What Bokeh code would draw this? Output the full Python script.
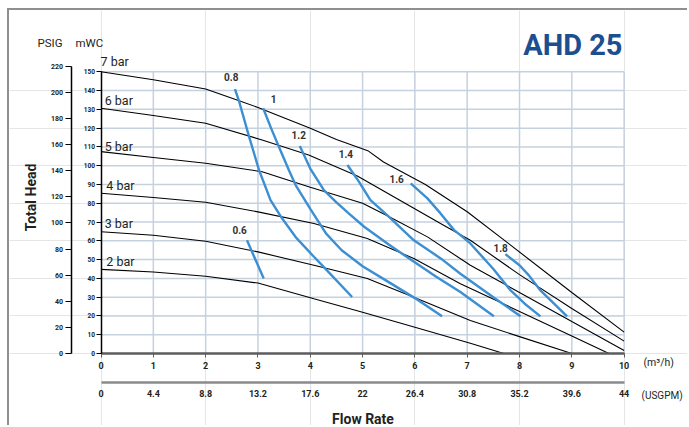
import math
from bokeh.plotting import figure
from bokeh.models import Range1d, LinearAxis, FixedTicker, CustomJSTickFormatter
from bokeh.embed import file_html
from bokeh.resources import INLINE
from bokeh.core.properties import value

# ---------------- data ----------------
flow_ticks = [0, 1, 2, 3, 4, 5, 6, 7, 8, 9, 10]            # m3/h
usgpm_ticks = [0, 4.4, 8.8, 13.2, 17.6, 22, 26.4, 30.8, 35.2, 39.6, 44]
mwc_ticks = [0, 10, 20, 30, 40, 50, 60, 70, 80, 90, 100, 110, 120, 130, 140, 150]
psig_ticks = [0, 20, 40, 60, 80, 100, 120, 140, 160, 180, 200, 220]

bar_names = ["7 bar", "6 bar", "5 bar", "4 bar", "3 bar", "2 bar"]

q_7bar = [0, 1, 2, 2.6, 3, 4, 4.5, 5.1, 5.4, 6.2, 7, 7.7, 9, 10]
h_7bar = [150, 145.8, 140.8, 135, 131, 120, 114, 108, 102, 90, 75.5, 60.5, 32.5, 11.4]
q_6bar = [0, 1, 2, 3.08, 3.97, 4.9, 5.98, 6.49, 7.06, 8, 9, 10]
h_6bar = [130.6, 126.7, 122.6, 113.7, 105.7, 94.5, 77.3, 69.2, 60.3, 42, 24, 6.6]
q_5bar = [0, 1, 2, 3.08, 4.0, 5.0, 5.5, 6.24, 7.06, 8, 9, 10]
h_5bar = [107.5, 104.4, 101.3, 96.8, 88.5, 80, 73, 62.1, 47, 32.5, 17, 1.6]
q_4bar = [0, 1, 2, 3, 4.07, 5.09, 5.98, 6.87, 8, 9, 9.71]
h_4bar = [85.3, 83.1, 80.5, 75.4, 69.2, 61.2, 50.6, 37.2, 22.4, 9.3, 0]
q_3bar = [0, 1, 2, 3, 4.07, 5.09, 5.98, 7.06, 8, 9]
h_3bar = [64.8, 63, 59.8, 54.1, 47, 39.9, 30, 17.6, 9, 0]
q_2bar = [0, 1, 2, 3, 4.07, 5, 6, 7.06, 7.7]
h_2bar = [44.8, 43.4, 41.1, 37.5, 29.2, 22, 14, 5.5, 0]

# air consumption curves
air_names = ["0.6", "0.8", "1", "1.2", "1.4", "1.6", "1.8"]
q_air06 = [2.79, 3.11]
h_air06 = [60.3, 39.9]
q_air08 = [2.56, 2.64, 2.83, 3.02, 3.24, 3.46, 3.72, 4.07, 4.26, 4.80]
h_air08 = [140.8, 134.2, 115.5, 97.7, 81.7, 72, 62, 51.5, 46, 30.1]
q_air10 = [3.10, 3.25, 3.40, 3.59, 3.72, 4.0, 4.3, 4.6, 5.0, 5.5, 6.0, 6.52]
h_air10 = [130.6, 120, 110.1, 97.7, 89.7, 77, 64, 55, 46.5, 38, 29.5, 19.8]
q_air12 = [3.80, 4.0, 4.26, 4.5, 4.74, 5.03, 5.5, 5.92, 6.4, 6.87, 7.51]
h_air12 = [110.5, 98.5, 87, 80.5, 74.5, 67.5, 58, 50, 41, 32.7, 19.8]
q_air14 = [4.71, 4.82, 4.93, 5.15, 5.47, 5.98, 6.5, 6.87, 7.5, 8.02]
h_air14 = [100.4, 96, 91.5, 81.7, 73.7, 60.3, 50.5, 42.5, 30, 19.8]
q_air16 = [5.92, 6.24, 6.49, 6.75, 6.87, 7.06, 7.5, 7.83, 8.1, 8.40]
h_air16 = [90.6, 82.6, 74.6, 65.7, 63, 58.6, 45, 33.6, 26.5, 19.8]
q_air18 = [7.73, 8.0, 8.18, 8.40, 8.91]
h_air18 = [52.9, 47, 41.6, 33.6, 19.8]

# ---------------- layout / styling ----------------
FONT = value("Roboto")
TXT = "#231f20"
GRID = "#c6d1e0"
BLUE = "#3b8fd2"

W, H = 680, 417                      # canvas (placed at page x=9, y=10)
X0, X1 = -1.75, 11.25                # m3/h across the whole canvas
Y0, Y1 = -39.4, 182.64               # mWC across the whole canvas
PSI_PER_MWC = 1.4379                 # scale of the PSIG axis as drawn in the chart

p = figure(width=W, height=H, x_range=Range1d(X0, X1), y_range=Range1d(Y0, Y1),
           output_backend="svg", toolbar_location=None,
           x_axis_location=None, y_axis_location=None,
           min_border_left=0, min_border_right=0, min_border_top=0, min_border_bottom=0)
p.outline_line_color = None
p.background_fill_color = "white"
p.border_fill_color = "white"
p.styles = {"margin-left": "7px", "margin-top": "8px",
            "border-left": "2px solid #8f8f8f", "border-top": "2px solid #8f8f8f"}
p.extra_x_ranges = {"usgpm": Range1d(X0 * 4.4, X1 * 4.4)}
p.extra_y_ranges = {"psig": Range1d(Y0 * PSI_PER_MWC, Y1 * PSI_PER_MWC)}

# helpers: page pixel -> data (only for placing texts / axes)
def qx(px):
    return X0 + (px - 9) * (X1 - X0) / W

def hy(py):
    return Y1 - (py - 10) * (Y1 - Y0) / H

# grid
n_v = len(flow_ticks) - 1
n_h = len(mwc_ticks) - 1
p.segment(x0=flow_ticks[1:], y0=[mwc_ticks[0]] * n_v, x1=flow_ticks[1:], y1=[mwc_ticks[-1]] * n_v,
          line_color=GRID, line_width=1.5)
p.segment(x0=[flow_ticks[0]] * n_h, y0=mwc_ticks[1:], x1=[flow_ticks[-1]] * n_h, y1=mwc_ticks[1:],
          line_color=GRID, line_width=1.5)

# pressure curves
for q, h in [(q_7bar, h_7bar), (q_6bar, h_6bar), (q_5bar, h_5bar),
             (q_4bar, h_4bar), (q_3bar, h_3bar), (q_2bar, h_2bar)]:
    p.line(q, h, line_color="black", line_width=1.1)

# air curves
for q, h in [(q_air06, h_air06), (q_air08, h_air08), (q_air10, h_air10), (q_air12, h_air12),
             (q_air14, h_air14), (q_air16, h_air16), (q_air18, h_air18)]:
    p.line(q, h, line_color=BLUE, line_width=2.4)

# axes
def style_axis(ax, size):
    ax.major_label_text_font = "Roboto"
    ax.major_label_text_font_size = size
    ax.major_label_text_font_style = "bold"
    ax.major_label_text_color = TXT
    ax.minor_tick_line_color = None
    ax.major_tick_in = 0

ax_m3 = LinearAxis(ticker=FixedTicker(ticks=flow_ticks), fixed_location=0,
                   bounds=(flow_ticks[0], flow_ticks[-1]))
style_axis(ax_m3, "9px")
ax_m3.axis_line_color = "#5c5c5c"
ax_m3.axis_line_width = 2.5
ax_m3.major_tick_line_color = "#5c5c5c"
ax_m3.major_tick_out = 4
ax_m3.major_label_standoff = 4
p.add_layout(ax_m3, "below")

ax_us = LinearAxis(x_range_name="usgpm", ticker=FixedTicker(ticks=usgpm_ticks),
                   fixed_location=hy(382), bounds=(usgpm_ticks[0], usgpm_ticks[-1]),
                   formatter=CustomJSTickFormatter(code="return Number(tick.toFixed(1)).toString()"))
style_axis(ax_us, "9px")
ax_us.axis_line_color = "#8a8a8a"
ax_us.axis_line_width = 2.5
ax_us.major_tick_line_color = None
ax_us.major_tick_out = 0
ax_us.major_label_standoff = 7
p.add_layout(ax_us, "below")

ax_mwc = LinearAxis(ticker=FixedTicker(ticks=mwc_ticks), fixed_location=0,
                    bounds=(mwc_ticks[0], mwc_ticks[-1]))
style_axis(ax_mwc, "6.5px")
ax_mwc.axis_line_color = "black"
ax_mwc.axis_line_width = 1.5
ax_mwc.major_tick_out = 5
ax_mwc.major_label_standoff = 1
p.add_layout(ax_mwc, "left")

ax_psig = LinearAxis(y_range_name="psig", ticker=FixedTicker(ticks=psig_ticks),
                     fixed_location=qx(70.5), bounds=(psig_ticks[0], psig_ticks[-1]))
style_axis(ax_psig, "7px")
ax_psig.axis_line_color = "black"
ax_psig.axis_line_width = 1.5
ax_psig.major_tick_out = 6
ax_psig.major_label_standoff = 2
p.add_layout(ax_psig, "left")

# texts
p.text(x=[-0.01, 0.07, 0.07, 0.1, 0.07, 0.1], y=[155.5, 134.5, 110.2, 89.7, 69.2, 49.0],
       text=bar_names, text_font=FONT, text_font_size=value("12.5px"), text_color=TXT,
       text_baseline="middle")
p.text(x=[2.65, 2.49, 3.30, 3.78, 4.68, 5.65, 7.64], y=[65.7, 147.4, 135.6, 116.4, 106.3, 92.7, 56.3],
       text=air_names, text_font=FONT, text_font_size=value("10px"), text_font_style="bold",
       text_color="#333333", text_align="center", text_baseline="middle")

def lab(text, px, py, size, bold=False, align="left", color=TXT, angle=0.0):
    p.text(x=[qx(px)], y=[hy(py)], text=[text], text_font=FONT, text_font_size=value(size),
           text_font_style="bold" if bold else "normal", text_color=color,
           text_align=align, text_baseline="middle", angle=angle)

lab("PSIG", 37, 42.5, "11.5px")
lab("mWC", 75, 42.5, "11.5px")
lab("AHD 25", 622, 44, "29px", bold=True, align="right", color="#1c4f8f")
lab("(m³/h)", 643, 362, "10.5px")
lab("(USGPM)", 641, 395, "10px")
lab("Flow Rate", 362.5, 418, "14px", bold=True, align="center")
lab("Total Head", 30, 197, "14px", bold=True, align="center", angle=math.pi / 2)

open("out.html", "w").write(file_html(p, INLINE))
